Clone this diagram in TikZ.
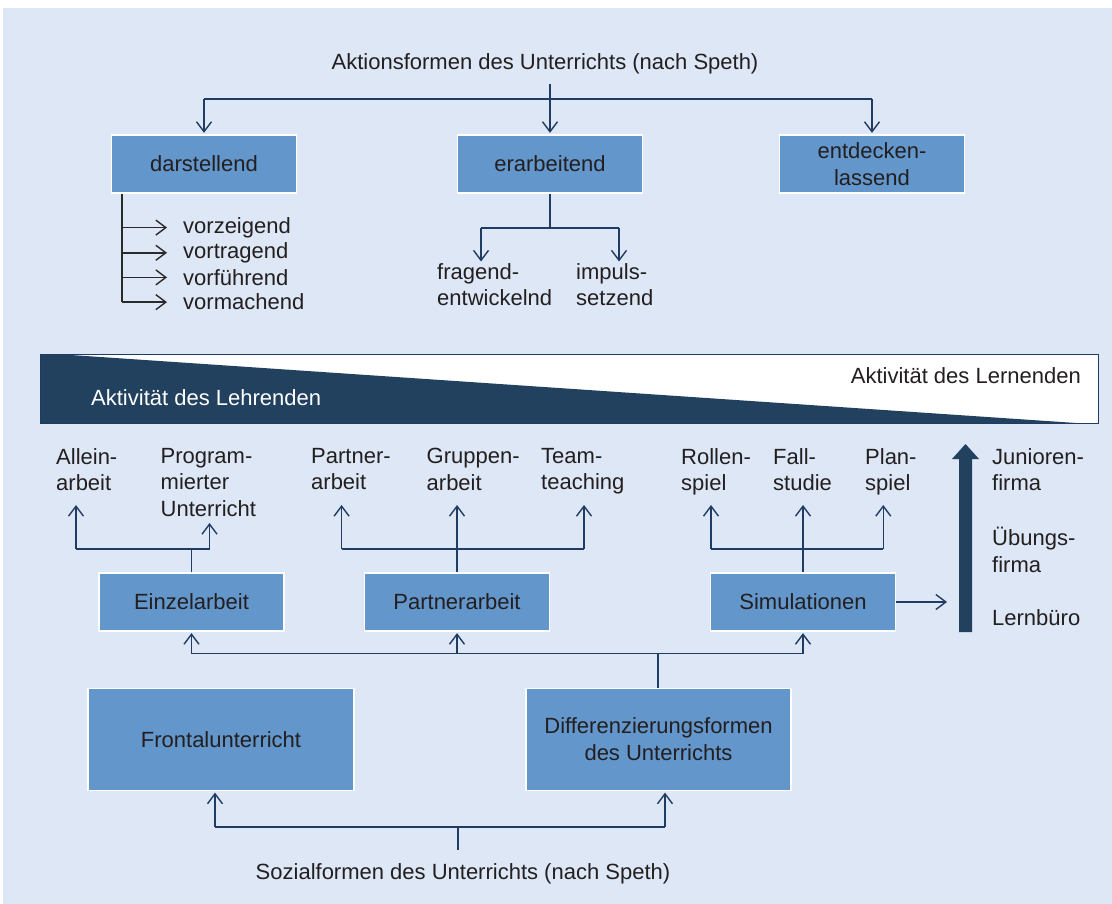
\documentclass[tikz,border=0pt]{standalone}
\usepackage{fontspec}
\setmainfont{Liberation Sans}
\usetikzlibrary{arrows.meta}
\definecolor{bgblue}{HTML}{DDE7F5}
\definecolor{boxblue}{HTML}{6396CA}
\definecolor{navy}{HTML}{203C63}
\definecolor{barnavy}{HTML}{22415F}
\definecolor{ink}{HTML}{231F20}
\definecolor{listgray}{HTML}{2A2A2A}
\begin{document}
\begin{tikzpicture}[x=1pt,y=-1pt,
  lbl/.style={font=\fontsize{22}{26.5}\selectfont, text=ink, inner sep=0pt, align=left},
  box/.style={draw=white, line width=1.2pt, fill=boxblue, minimum width=185pt,
    minimum height=58pt, align=center, font=\fontsize{22}{27}\selectfont,
    text=ink, inner sep=0pt},
  conn/.style={draw=navy, line width=1.4pt},
  arr/.style={conn, -{Straight Barb[length=10pt,width=15pt]}, shorten >=1.5pt},
  listln/.style={draw=listgray, line width=1.4pt},
  listarr/.style={listln, -{Straight Barb[length=10pt,width=15pt]}},
]
\useasboundingbox (0,0) rectangle (1112,904);
\fill[bgblue] (3,8) rectangle (1112,904);

% ---------- Aktionsformen ----------
\node[lbl, anchor=base] (akt) at (545,70) {Aktionsformen des Unterrichts (nach Speth)};
\node[box] (dar) at (204,164) {darstellend};
\node[box] (era) at (550,164) {erarbeitend};
\node[box] (ent) at (872,164) {entdecken-\\lassend};

\coordinate (tj) at (551,99);
\draw[conn] (dar.north |- tj) -- (ent.north |- tj);
\draw[arr] (dar.north |- tj) -- (dar.north);
\draw[arr] ([yshift=-9pt]akt.south -| era.north) -- (era.north);
\draw[arr] (ent.north |- tj) -- (ent.north);

% list under "darstellend"
\node[lbl, anchor=base west] (v1) at (183,233.3) {vorzeigend};
\node[lbl, anchor=base west] (v2) at (183,258.5) {vortragend};
\node[lbl, anchor=base west] (v3) at (183,285.3) {vorführend};
\node[lbl, anchor=base west] (v4) at (183,310) {vormachend};
\coordinate (lx) at (122,0);
\draw[listln] (dar.south -| lx) -- (v4.west -| lx);
\foreach \v in {v1,v2,v3,v4}
  \draw[listarr] (\v.west -| lx) -- ([xshift=-16pt]\v.west);

% split under "erarbeitend"
\node[lbl, anchor=north west] (frag) at (437,263) {fragend-\\entwickelnd};
\node[lbl, anchor=north west] (imp) at (576,263) {impuls-\\setzend};
\coordinate (eL) at (481,228);
\coordinate (eR) at (619,228);
\draw[conn] (era.south) -- (era.south |- eL);
\draw[conn] (eL) -- (eR);
\draw[arr] (eL) -- (eL |- frag.north);
\draw[arr] (eR) -- (eR |- imp.north);

% ---------- activity bar ----------
\fill[white] (40,354) rectangle (1098,423);
\fill[barnavy] (40,354) -- (56,354) -- (1076,423) -- (40,423) -- cycle;
\draw[navy, line width=1pt] (40,354) rectangle (1098,423);
\node[lbl, text=white, anchor=base west] (lehr) at (91,405) {Aktivität des Lehrenden};
\node[lbl, anchor=base east] (lern) at (1081,383) {Aktivität des Lernenden};

% ---------- Sozialformen: upper level ----------
\node[lbl, anchor=north west] (allein) at (56,448) {Allein-\\arbeit};
\node[lbl, anchor=north west] (prog) at (160.5,448) {Program-\\mierter\\Unterricht};
\node[lbl, anchor=north west] (pa) at (311,448) {Partner-\\arbeit};
\node[lbl, anchor=north west] (ga) at (426.5,448) {Gruppen-\\arbeit};
\node[lbl, anchor=north west] (tt) at (541,448) {Team-\\teaching};
\node[lbl, anchor=north west] (rs) at (681,448) {Rollen-\\spiel};
\node[lbl, anchor=north west] (fs) at (773,448) {Fall-\\studie};
\node[lbl, anchor=north west] (ps) at (865,448) {Plan-\\spiel};

\node[lbl, anchor=north west] (jf) at (992,448) {Junioren-\\firma};
\node[lbl, anchor=north west] (uf) at (992,527) {Übungs-\\firma};
\node[lbl, anchor=base west] (lb) at (992,625) {Lernbüro};

\node[box] (einz) at (191.5,602) {Einzelarbeit};
\node[box] (part) at (457,602) {Partnerarbeit};
\node[box] (sim) at (803,602) {Simulationen};

% Einzelarbeit branches
\coordinate (e1) at (76,549);
\coordinate (e2) at (209.5,549);
\draw[conn] (einz.north) -- (einz.north |- e1);
\draw[conn] (e1) -- (e2);
\draw[arr, shorten >=0pt] (e1) -- (76,505);
\draw[arr, shorten >=0pt] (e2) -- (209.5,523);

% Partnerarbeit branches
\coordinate (p1) at (341.6,549);
\coordinate (p3) at (584,549);
\draw[conn] (p1) -- (p3);
\draw[arr, shorten >=0pt] (part.north) -- (457,505);
\draw[arr, shorten >=0pt] (p1) -- (341.6,505);
\draw[arr, shorten >=0pt] (p3) -- (584,505);

% Simulationen branches
\coordinate (s1) at (711,549);
\coordinate (s3) at (883.3,549);
\draw[conn] (s1) -- (s3);
\draw[arr, shorten >=0pt] (sim.north) -- (803,505);
\draw[arr, shorten >=0pt] (s1) -- (711,505);
\draw[arr, shorten >=0pt] (s3) -- (883.3,505);
\draw[arr, shorten >=0pt] (sim.east) -- (947,602);

% rising arrow beside the firm types
\fill[barnavy] (959,632) -- (959,459) -- (952,459) -- (965.5,444)
  -- (979,459) -- (972,459) -- (972,632) -- cycle;

% ---------- Sozialformen: lower level ----------
\node[box, minimum width=266pt, minimum height=102pt] (front) at (221,739.5) {Frontalunterricht};
\node[box, minimum width=265pt, minimum height=102pt] (diff) at (658.5,739.5) {Differenzierungsformen\\des Unterrichts};

\coordinate (mj) at (658,653.5);
\draw[conn] (diff.north -| mj) -- (mj);
\draw[conn] (einz.south |- mj) -- (sim.south |- mj);
\draw[arr] (einz.south |- mj) -- (einz.south);
\draw[arr] (part.south |- mj) -- (part.south);
\draw[arr] (sim.south |- mj) -- (sim.south);

\node[lbl, anchor=base] (soz) at (463,879) {Sozialformen des Unterrichts (nach Speth)};
\coordinate (bj) at (458,827);
\coordinate (bL) at (215,827);
\coordinate (bR) at (665,827);
\draw[conn] ([yshift=13pt]soz.north -| bj) -- (bj);
\draw[conn] (bL) -- (bR);
\draw[arr] (bL) -- (bL |- front.south);
\draw[arr] (bR) -- (bR |- diff.south);
\end{tikzpicture}
\end{document}
